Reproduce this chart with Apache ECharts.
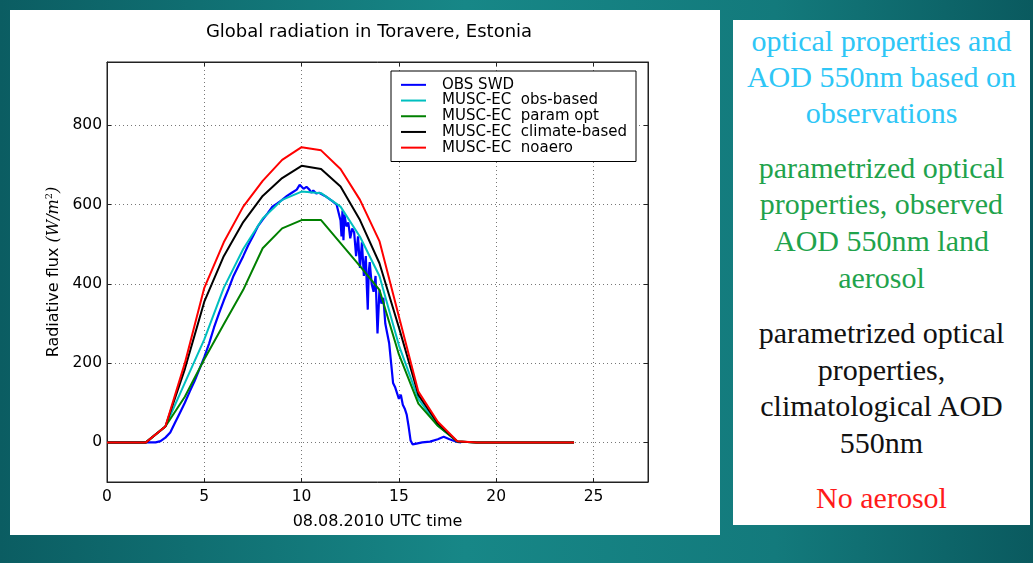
<!DOCTYPE html>
<html>
<head>
<meta charset="utf-8">
<script src="https://cdn.jsdelivr.net/npm/echarts@6/dist/echarts.min.js"></script>
<style>
  html, body { margin: 0; padding: 0; width: 1033px; height: 563px; overflow: hidden; }
  body { background: linear-gradient(to right, #0b5d62 0%, #178787 45%, #137a7c 75%, #0a5a5f 100%); position: relative; }
  #panel { position: absolute; left: 10px; top: 10px; width: 710px; height: 525px; background: #fff; }
  #chart { width: 710px; height: 525px; }
  #notes { position: absolute; left: 733px; top: 20px; width: 297px; height: 505px; background: #fff;
    font-family: "Liberation Serif", "DejaVu Serif", serif; font-size: 30px; line-height: 36px; text-align: center; }
  #notes p { margin: 0 0 18.5px 0; white-space: nowrap; }
</style>
</head>
<body>
<div id="panel"><div id="chart"></div></div>
<div id="notes">
  <p style="color:#2ec6f6;margin-top:3px">optical properties and<br>AOD 550nm based on<br>observations</p>
  <p style="color:#1fa34c;line-height:36.7px">parametrized optical<br>properties, observed<br>AOD 550nm land<br>aerosol</p>
  <p style="color:#111;line-height:36.7px">parametrized optical<br>properties,<br>climatological AOD<br>550nm</p>
  <p style="color:#ff1a1a">No aerosol</p>
</div>
<script>
// hours of the model output
const hours = [0, 1, 2, 3, 4, 5, 6, 7, 8, 9, 10, 11, 12, 13, 14, 15, 16, 17, 18, 19, 20, 21, 22, 23, 24]

// MUSC-EC runs, W/m2
const obsBased = [0, 0, 0, 40, 150, 260, 390, 488, 565, 612, 633, 629, 595, 519, 420, 245, 110, 42, 2, 0, 0, 0, 0, 0, 0]
const paramOpt = [0, 0, 0, 40, 115, 210, 298, 385, 490, 540, 561, 561, 503, 445, 385, 222, 98, 42, 2, 0, 0, 0, 0, 0, 0]
const climateBased = [0, 0, 0, 40, 185, 355, 470, 556, 622, 667, 698, 690, 646, 561, 452, 290, 120, 48, 2, 0, 0, 0, 0, 0, 0]
const noAero = [0, 0, 0, 40, 200, 390, 505, 595, 660, 713, 745, 737, 690, 612, 508, 318, 128, 52, 3, 0, 0, 0, 0, 0, 0]

// observed SWD (time in hours, W/m2)
const obsTime = [0, 2.5, 2.75, 3, 3.25, 3.5, 3.75, 4, 4.25, 4.5, 4.75, 5, 5.25, 5.5, 5.75, 6, 6.25, 6.5, 6.75, 7,
  7.25, 7.5, 7.75, 8, 8.25, 8.5, 8.75, 9, 9.25, 9.5, 9.75, 9.9, 10, 10.1, 10.25, 10.4, 10.5, 10.6, 10.75, 10.9,
  11, 11.2, 11.4, 11.6, 11.8, 11.9, 12, 12.05, 12.1, 12.15, 12.2, 12.3, 12.4, 12.5, 12.6, 12.7, 12.8, 12.9, 13,
  13.1, 13.2, 13.3, 13.35, 13.4, 13.45, 13.5, 13.6, 13.7, 13.8, 13.9, 14, 14.1, 14.2, 14.3, 14.4, 14.5, 14.6,
  14.7, 14.8, 14.9, 15, 15.1, 15.2, 15.3, 15.4, 15.5, 15.6, 15.7, 15.9, 16.2, 16.6, 17, 17.3, 17.6, 18, 18.2]
const obsSwd = [0, 0, 3, 12, 25, 50, 75, 100, 128, 155, 185, 215, 250, 290, 325, 358, 388, 420, 445, 470,
  497, 520, 545, 562, 578, 595, 603, 612, 622, 630, 638, 650, 648, 640, 645, 638, 630, 636, 628, 630,
  625, 622, 615, 608, 600, 598, 560, 520, 585, 510, 575, 545, 555, 515, 540, 530, 470, 520, 440,
  505, 420, 470, 395, 335, 430, 455, 400, 380, 420, 275, 385, 350, 365, 300, 275, 250, 200,
  150, 140, 125, 110, 120, 95, 85, 70, 40, 5, -5, -3, 0, 2, 8, 14, 8, 1, 0]

// axis ticks
const xTicks = [0, 5, 10, 15, 20, 25]
const yTicks = [0, 200, 400, 600, 800]

const pairs = (xs, ys) => xs.map((x, i) => [x, ys[i]])

let chart = echarts.init(document.getElementById('chart'))

const labelFont = { fontFamily: 'DejaVu Sans', fontSize: 15.5, color: '#000' }
const gridLine = { show: true, lineStyle: { color: '#777', type: [1, 3], width: 1 } }
const frame = { onZero: false, lineStyle: { color: '#222' } }

let options = {
  animation: false,
  title: {
    text: 'Global radiation in Toravere, Estonia',
    left: 354,
    top: 8,
    textAlign: 'center',
    textStyle: { fontFamily: 'DejaVu Sans', fontSize: 18, fontWeight: 'normal', color: '#000' }
  },
  legend: {
    orient: 'vertical',
    left: 381,
    top: 61,
    padding: [6, 9, 6, 10],
    icon: 'rect',
    itemGap: 0,
    itemWidth: 25,
    itemHeight: 2,
    backgroundColor: '#fff',
    borderColor: '#000',
    borderWidth: 1,
    textStyle: { fontFamily: 'DejaVu Sans', fontSize: 15, lineHeight: 15.7, color: '#000', padding: [0, 0, 0, 11] },
    data: ['OBS SWD', 'MUSC-EC  obs-based', 'MUSC-EC  param opt', 'MUSC-EC  climate-based', 'MUSC-EC  noaero']
  },
  grid: {
    left: 97,
    top: 52,
    width: 541,
    height: 420,
    show: true,
    borderColor: '#222',
    borderWidth: 1
  },
  xAxis: [
    {
      type: 'value',
      min: 0,
      max: 27.8,
      name: '08.08.2010 UTC time',
      nameLocation: 'middle',
      nameGap: 32,
      nameTextStyle: { fontFamily: 'DejaVu Sans', fontSize: 16, color: '#000' },
      axisLine: frame,
      axisTick: { inside: true, length: 4, customValues: xTicks, lineStyle: { color: '#222' } },
      axisLabel: Object.assign({ margin: 7, customValues: xTicks }, labelFont),
      splitLine: gridLine
    },
    {
      type: 'value',
      position: 'top',
      min: 0,
      max: 27.8,
      axisLine: frame,
      axisTick: { inside: true, length: 4, customValues: xTicks, lineStyle: { color: '#222' } },
      axisLabel: { show: false },
      splitLine: { show: false }
    }
  ],
  yAxis: [
    {
      type: 'value',
      min: -100,
      max: 960,
      name: '{n|Radiative flux }{m|(W/m}{s|2}{m|)}',
      nameLocation: 'middle',
      nameGap: 44,
      nameTextStyle: {
        rich: {
          n: { fontFamily: 'DejaVu Sans', fontSize: 16, color: '#000' },
          m: { fontFamily: 'DejaVu Serif', fontStyle: 'italic', fontSize: 16, color: '#000' },
          s: { fontFamily: 'DejaVu Serif', fontSize: 10, color: '#000', verticalAlign: 'top', padding: [0, 0, 8, 0] }
        }
      },
      axisLine: Object.assign({ show: true }, frame),
      axisTick: { show: true, inside: true, length: 4, customValues: yTicks, lineStyle: { color: '#222' } },
      axisLabel: Object.assign({ margin: 5, customValues: yTicks }, labelFont),
      splitLine: gridLine
    },
    {
      type: 'value',
      position: 'right',
      min: -100,
      max: 960,
      axisLine: Object.assign({ show: true }, frame),
      axisTick: { show: true, inside: true, length: 4, customValues: yTicks, lineStyle: { color: '#222' } },
      axisLabel: { show: false },
      splitLine: { show: false }
    }
  ],
  series: [
    {
      name: 'OBS SWD',
      type: 'line',
      symbol: 'none',
      color: '#0000ff',
      lineStyle: { width: 2.2 },
      data: pairs(obsTime, obsSwd)
    },
    {
      name: 'MUSC-EC  obs-based',
      type: 'line',
      symbol: 'none',
      color: '#00bfbf',
      lineStyle: { width: 2 },
      data: pairs(hours, obsBased)
    },
    {
      name: 'MUSC-EC  param opt',
      type: 'line',
      symbol: 'none',
      color: '#008000',
      lineStyle: { width: 2 },
      data: pairs(hours, paramOpt)
    },
    {
      name: 'MUSC-EC  climate-based',
      type: 'line',
      symbol: 'none',
      color: '#000000',
      lineStyle: { width: 2 },
      data: pairs(hours, climateBased)
    },
    {
      name: 'MUSC-EC  noaero',
      type: 'line',
      symbol: 'none',
      color: '#ff0000',
      lineStyle: { width: 2 },
      data: pairs(hours, noAero)
    }
  ]
}
chart.setOption(options)
</script>
</body>
</html>
